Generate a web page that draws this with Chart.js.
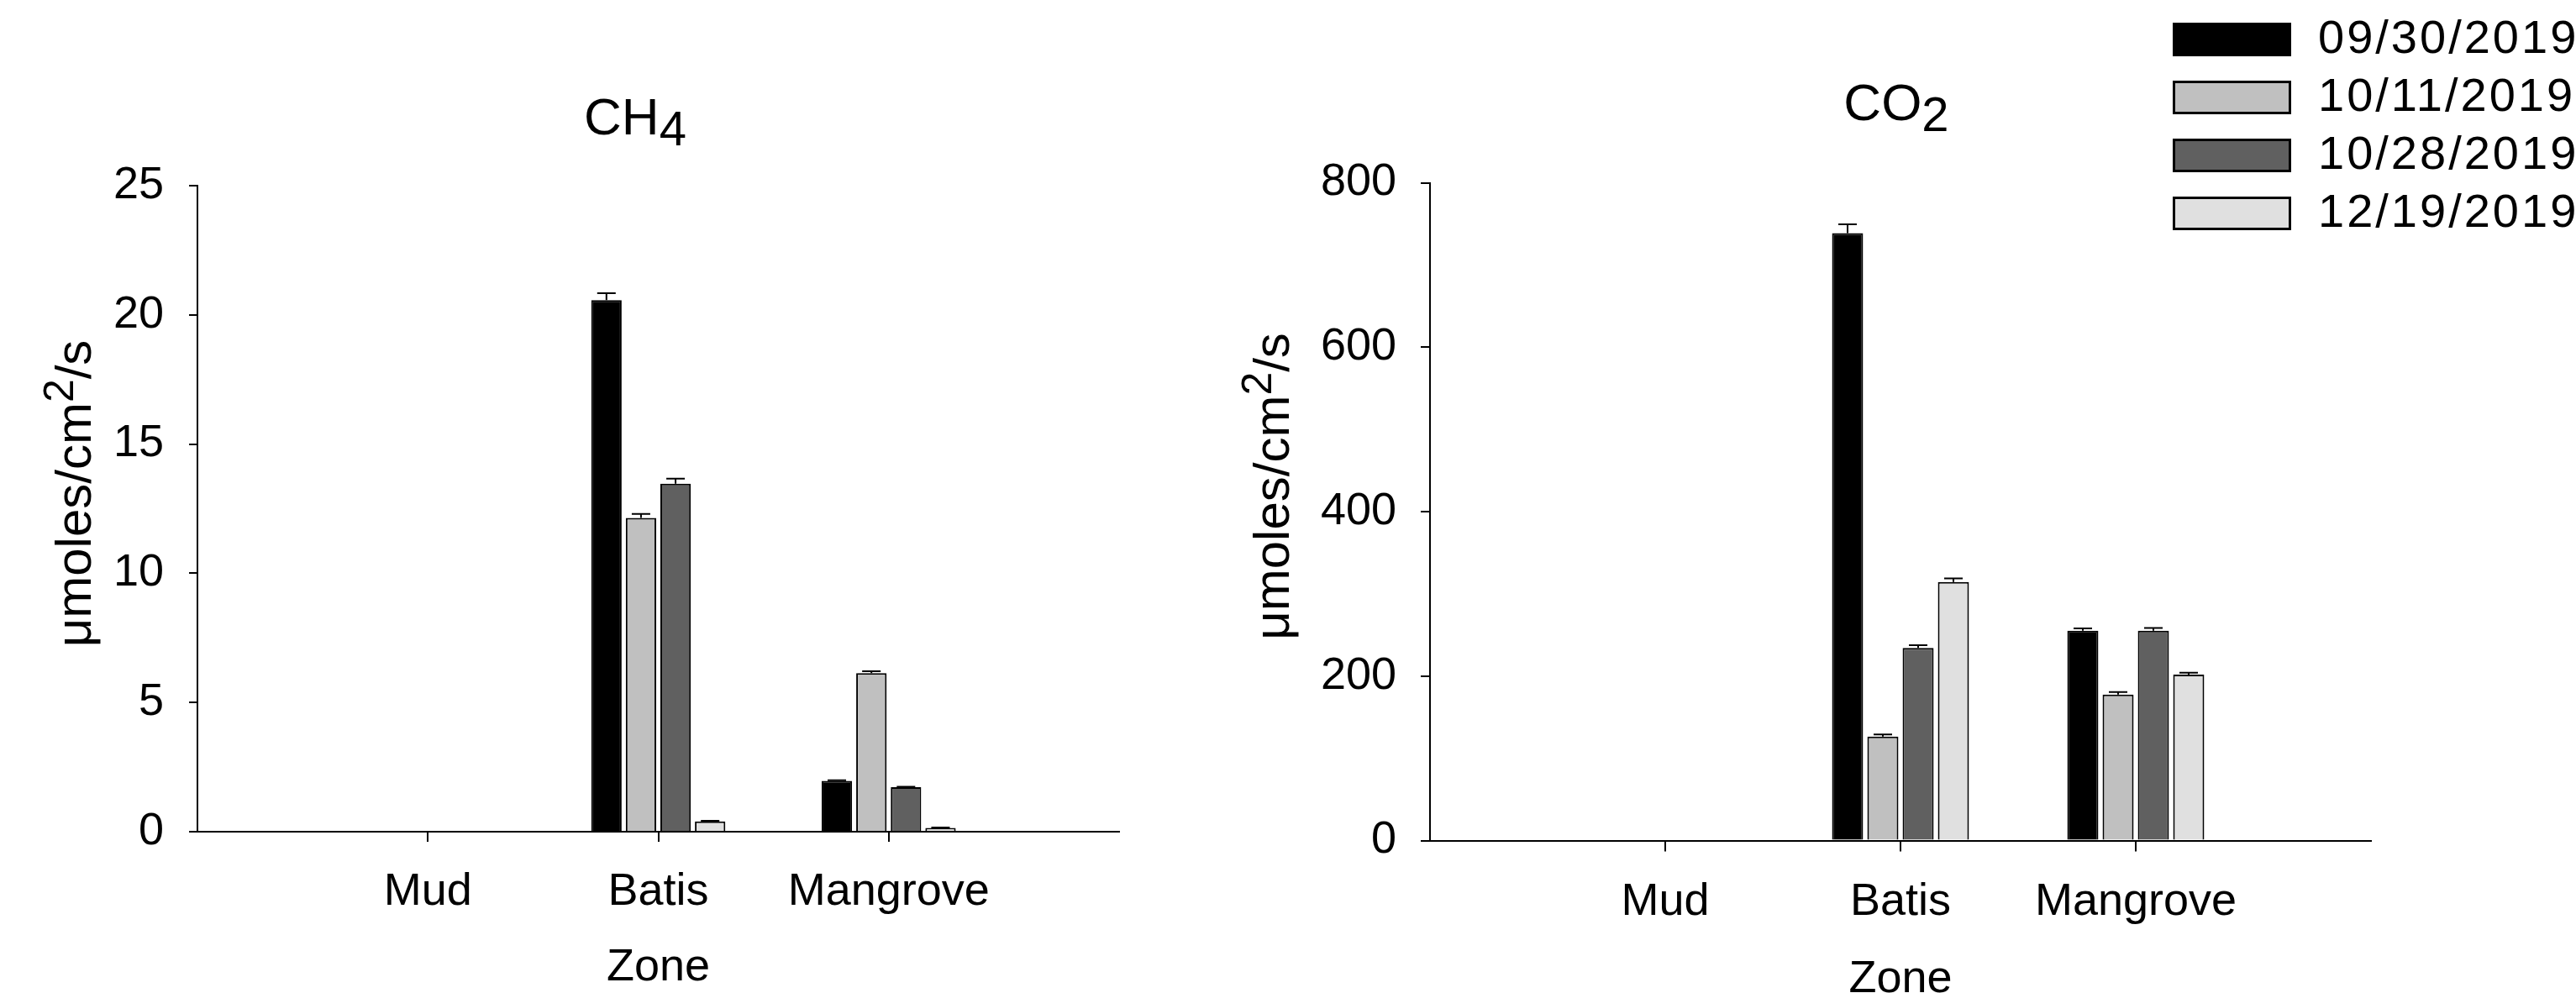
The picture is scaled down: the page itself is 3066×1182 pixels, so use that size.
<!DOCTYPE html>
<html>
<head>
<meta charset="utf-8">
<script src="https://cdn.jsdelivr.net/npm/chart.js@4.4.1/dist/chart.umd.min.js"></script>
<style>
  html, body { margin: 0; padding: 0; background: #fff; }
  body { width: 3066px; height: 1182px; position: relative; overflow: hidden; }
  canvas { position: absolute; top: 0; }
  #ch4Chart { left: 0; }
  #co2Chart { left: 1450px; }
</style>
</head>
<body>
<canvas id="ch4Chart" width="1450" height="1182"></canvas>
<canvas id="co2Chart" width="1616" height="1182"></canvas>
<script>
// Zones on the x axis (no bars were measured for Mud)
const zones = ["Mud", "Batis", "Mangrove"];
// Sampling dates, one bar series per date
const dates = ["09/30/2019", "10/11/2019", "10/28/2019", "12/19/2019"];
const barColors = ["#000000", "#c0c0c0", "#606060", "#e0e0e0"];

// CH4 flux per date, ordered like zones
const ch4Sep30 = [null, 20.57, 1.97];
const ch4Oct11 = [null, 12.14, 6.14];
const ch4Oct28 = [null, 13.47, 1.72];
const ch4Dec19 = [null, 0.40, 0.15];
// CH4 error bars
const ch4ErrSep30 = [null, 0.27, 0.02];
const ch4ErrOct11 = [null, 0.16, 0.07];
const ch4ErrOct28 = [null, 0.19, 0.02];
const ch4ErrDec19 = [null, 0.02, 0.01];

// CO2 flux per date, ordered like zones
const co2Sep30 = [null, 738.6, 255.2];
const co2Oct11 = [null, 126.5, 177.5];
const co2Oct28 = [null, 234.1, 255.2];
const co2Dec19 = [null, 314.4, 201.7];
// CO2 error bars
const co2ErrSep30 = [null, 10.8, 2.7];
const co2ErrOct11 = [null, 2.4, 3.1];
const co2ErrOct28 = [null, 3.4, 3.4];
const co2ErrDec19 = [null, 4.5, 2.3];

// y axis ranges
const ch4Ticks = [0, 5, 10, 15, 20, 25];
const co2Ticks = [0, 200, 400, 600, 800];

const fontFamily = '"Liberation Sans", Arial, sans-serif';
Chart.defaults.font.family = fontFamily;
Chart.defaults.color = "#000";

// Build one bar dataset per sampling date
const buildDatasets = (series, errors) =>
  series.map((values, i) => ({
    label: dates[i],
    data: values.map((v, j) => ({ x: j + 1, y: v })),
    errors: errors[i],
    backgroundColor: barColors[i],
    borderColor: "#000",
    borderWidth: 2,
    categoryPercentage: 0.6,
    barPercentage: 0.88,
  }));

// Draws the upper error bar with a cap on each bar
const errorBars = {
  id: "errorBars",
  afterDatasetsDraw(chart) {
    const ctx = chart.ctx;
    const yScale = chart.scales.y;
    ctx.save();
    ctx.strokeStyle = "#000";
    ctx.lineWidth = 2;
    chart.data.datasets.forEach((ds, i) => {
      const meta = chart.getDatasetMeta(i);
      meta.data.forEach((bar, j) => {
        const v = ds.data[j].y;
        const err = ds.errors[j];
        if (v === null || !err) return;
        const yTop = yScale.getPixelForValue(v + err);
        ctx.beginPath();
        ctx.moveTo(bar.x, bar.y);
        ctx.lineTo(bar.x, yTop);
        ctx.moveTo(bar.x - 11, yTop);
        ctx.lineTo(bar.x + 11, yTop);
        ctx.stroke();
      });
    });
    ctx.restore();
  },
};

// Writes a row of text runs centred on 0, each with its own size and offset
const drawRuns = (ctx, runs) => {
  const widths = runs.map((r) => {
    ctx.font = `${r.size}px ${fontFamily}`;
    return ctx.measureText(r.text).width;
  });
  let x = -widths.reduce((a, b) => a + b, 0) / 2;
  runs.forEach((r, i) => {
    ctx.font = `${r.size}px ${fontFamily}`;
    ctx.fillText(r.text, x, r.dy);
    x += widths[i];
  });
};

// Chart title with subscript and y axis title with superscript
const richText = {
  id: "richText",
  afterDraw(chart, args, opts) {
    const ctx = chart.ctx;
    const area = chart.chartArea;
    ctx.save();
    ctx.fillStyle = "#000";
    ctx.textBaseline = "alphabetic";
    ctx.textAlign = "left";
    ctx.translate(opts.titleX, opts.titleY);
    drawRuns(ctx, opts.title);
    ctx.restore();

    ctx.save();
    ctx.fillStyle = "#000";
    ctx.textBaseline = "alphabetic";
    ctx.textAlign = "left";
    ctx.translate(opts.yTitleX, (area.top + area.bottom) / 2 + opts.yTitleShift);
    ctx.rotate(-Math.PI / 2);
    drawRuns(ctx, opts.yTitle);
    ctx.restore();
  },
};

// Column legend in the top right corner
const sideLegend = {
  id: "sideLegend",
  afterDraw(chart, args, opts) {
    const ctx = chart.ctx;
    ctx.save();
    ctx.font = `${opts.fontSize}px ${fontFamily}`;
    ctx.letterSpacing = "3px";
    ctx.textBaseline = "middle";
    ctx.textAlign = "left";
    chart.data.datasets.forEach((ds, i) => {
      const top = opts.top + i * opts.rowGap;
      ctx.fillStyle = ds.backgroundColor;
      ctx.fillRect(opts.left, top, opts.boxWidth, opts.boxHeight);
      ctx.strokeStyle = "#000";
      ctx.lineWidth = 3;
      ctx.strokeRect(opts.left + 1.5, top + 1.5, opts.boxWidth - 3, opts.boxHeight - 3);
      ctx.fillStyle = "#000";
      ctx.fillText(ds.label, opts.textX, top + opts.boxHeight / 2 + 1);
    });
    ctx.restore();
  },
};

const yTitleRuns = [
  { text: "\u03bcmoles/cm", size: 60, dy: 0 },
  { text: "2", size: 50, dy: -21 },
  { text: "/s", size: 60, dy: 0 },
];

// Shared chart options, sizes per panel
const buildOptions = (cfg) => ({
  responsive: false,
  animation: false,
  layout: { padding: cfg.padding },
  plugins: {
    legend: { display: false },
    tooltip: { enabled: false },
    richText: cfg.richText,
    sideLegend: cfg.sideLegend || {},
  },
  scales: {
    x: {
      type: "linear",
      min: 0,
      max: zones.length + 1,
      offset: false,
      afterFit: (scale) => { scale.height = cfg.xHeight; },
      afterBuildTicks: (scale) => {
        scale.ticks = zones.map((z, i) => ({ value: i + 1 }));
      },
      ticks: {
        autoSkip: false,
        maxRotation: 0,
        padding: 28,
        font: { size: 54 },
        callback: (value) => zones[value - 1],
      },
      grid: {
        offset: false,
        drawOnChartArea: false,
        tickLength: cfg.xTick,
        lineWidth: 2,
        color: "#000",
      },
      border: { display: true, color: "#000", width: 2 },
      title: {
        display: true,
        text: "Zone",
        font: { size: 54 },
        padding: { top: 0, bottom: cfg.zonePad },
      },
    },
    y: {
      min: cfg.yTicks[0],
      max: cfg.yTicks[cfg.yTicks.length - 1],
      afterFit: (scale) => { scale.width = cfg.yWidth; },
      ticks: {
        stepSize: cfg.yTicks[1] - cfg.yTicks[0],
        padding: cfg.yPad,
        font: { size: 54 },
      },
      grid: {
        drawOnChartArea: false,
        tickLength: cfg.yTick,
        lineWidth: 2,
        color: "#000",
      },
      border: { display: true, color: "#000", width: 2 },
    },
  },
});

// Left panel: CH4
new Chart(document.getElementById("ch4Chart"), {
  type: "bar",
  data: {
    datasets: buildDatasets(
      [ch4Sep30, ch4Oct11, ch4Oct28, ch4Dec19],
      [ch4ErrSep30, ch4ErrOct11, ch4ErrOct28, ch4ErrDec19]
    ),
  },
  options: buildOptions({
    padding: { left: 0, top: 221, right: 118, bottom: 0 },
    xHeight: 192,
    yWidth: 235,
    xTick: 12,
    yTick: 10,
    yPad: 30,
    zonePad: -3,
    yTicks: ch4Ticks,
    richText: {
      title: [
        { text: "CH", size: 62, dy: 0 },
        { text: "4", size: 58, dy: 13 },
      ],
      titleX: 756,
      titleY: 160,
      yTitle: yTitleRuns,
      yTitleX: 108,
      yTitleShift: -18,
    },
  }),
  plugins: [errorBars, richText],
});

// Right panel: CO2, carries the legend
new Chart(document.getElementById("co2Chart"), {
  type: "bar",
  data: {
    datasets: buildDatasets(
      [co2Sep30, co2Oct11, co2Oct28, co2Dec19],
      [co2ErrSep30, co2ErrOct11, co2ErrOct28, co2ErrDec19]
    ),
  },
  options: buildOptions({
    padding: { left: 0, top: 217.5, right: 244, bottom: 0 },
    xHeight: 181.5,
    yWidth: 252,
    xTick: 13,
    yTick: 11,
    yPad: 29,
    zonePad: -17,
    yTicks: co2Ticks,
    richText: {
      title: [
        { text: "CO", size: 62, dy: 0 },
        { text: "2", size: 58, dy: 13 },
      ],
      titleX: 807,
      titleY: 143,
      yTitle: yTitleRuns,
      yTitleX: 84,
      yTitleShift: -30,
    },
    sideLegend: {
      left: 1136,
      top: 27,
      rowGap: 69,
      boxWidth: 141,
      boxHeight: 40,
      textX: 1309,
      fontSize: 56,
    },
  }),
  plugins: [errorBars, richText, sideLegend],
});
</script>
</body>
</html>
